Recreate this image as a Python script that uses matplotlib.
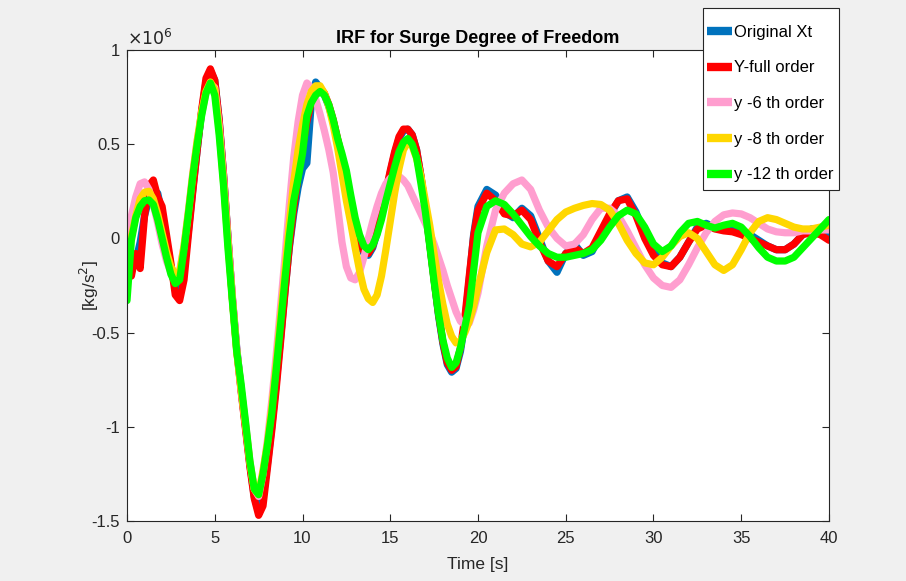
import numpy as np
import matplotlib.pyplot as plt
from matplotlib.patches import Rectangle

plt.rcParams['font.family'] = ['Liberation Sans', 'DejaVu Sans']

# time grid: 0.25 s up to 20 s, then 0.5 s
t = np.concatenate([np.arange(0, 20, 0.25), np.arange(20, 40.5, 0.5)])

# values in units of 1e6 kg/s^2
original_xt = [
    -0.05, -0.12, -0.12, -0.02, 0.12, 0.21, 0.25, 0.24, 0.13, -0.01, -0.15, -0.26,
    -0.28, -0.16, 0.04, 0.26, 0.47, 0.67, 0.83, 0.89, 0.84, 0.63, 0.34, 0.01,
    -0.31, -0.58, -0.80, -1.00, -1.20, -1.37, -1.45, -1.38, -1.20, -1.00, -0.77, -0.53,
    -0.28, -0.05, 0.13, 0.27, 0.37, 0.40, 0.72, 0.83, 0.80, 0.76, 0.70, 0.62,
    0.52, 0.42, 0.31, 0.18, 0.06, -0.03, -0.08, -0.09, -0.05, 0.03, 0.13, 0.24,
    0.35, 0.45, 0.53, 0.57, 0.58, 0.55, 0.47, 0.33, 0.16, -0.03, -0.22, -0.41,
    -0.56, -0.67, -0.71, -0.69, -0.60, -0.45, -0.22, 0.02,
    0.17, 0.26, 0.23, 0.14, 0.11, 0.16, 0.12, 0.00, -0.12, -0.18, -0.08, -0.03,
    -0.09, -0.07, 0.02, 0.12, 0.20, 0.22, 0.14, 0.02, -0.07, -0.13, -0.15, -0.10,
    -0.02, 0.06, 0.08, 0.06, 0.05, 0.05, 0.04, 0.02, -0.01, -0.04, -0.06, -0.06,
    -0.03, 0.02, 0.05, 0.05, 0.03]

y_full = [
    0.00, -0.20, -0.08, -0.16, 0.12, 0.28, 0.31, 0.22, 0.17, 0.02, -0.13, -0.30,
    -0.33, -0.22, 0.02, 0.25, 0.47, 0.68, 0.85, 0.90, 0.84, 0.63, 0.34, 0.01,
    -0.31, -0.59, -0.81, -1.01, -1.21, -1.38, -1.47, -1.42, -1.22, -1.02, -0.80, -0.55,
    -0.29, -0.04, 0.16, 0.33, 0.48, 0.62, 0.72, 0.78, 0.80, 0.77, 0.71, 0.63,
    0.53, 0.43, 0.32, 0.19, 0.07, -0.02, -0.07, -0.08, -0.04, 0.04, 0.14, 0.25,
    0.36, 0.46, 0.54, 0.58, 0.58, 0.55, 0.47, 0.33, 0.16, -0.03, -0.22, -0.40,
    -0.55, -0.66, -0.70, -0.68, -0.58, -0.42, -0.20, 0.01,
    0.15, 0.24, 0.20, 0.13, 0.12, 0.15, 0.10, -0.02, -0.12, -0.15, -0.08, -0.05,
    -0.08, -0.05, 0.04, 0.13, 0.20, 0.21, 0.12, 0.00, -0.09, -0.14, -0.15, -0.10,
    -0.02, 0.05, 0.07, 0.05, 0.04, 0.035, 0.02, 0.00, -0.02, -0.04, -0.06, -0.06,
    -0.03, 0.02, 0.03, 0.02, -0.01]

y_6th = [
    0.00, 0.12, 0.22, 0.29, 0.30, 0.26, 0.18, 0.08, -0.03, -0.12, -0.18, -0.20,
    -0.17, -0.04, 0.15, 0.35, 0.52, 0.66, 0.77, 0.82, 0.80, 0.60, 0.32, 0.00,
    -0.30, -0.58, -0.80, -0.98, -1.18, -1.33, -1.37, -1.25, -1.07, -0.86, -0.62, -0.36,
    -0.10, 0.18, 0.43, 0.62, 0.76, 0.825, 0.80, 0.74, 0.66, 0.57, 0.47, 0.35,
    0.17, -0.02, -0.15, -0.21, -0.22, -0.18, -0.10, 0.00, 0.09, 0.17, 0.24, 0.29,
    0.32, 0.335, 0.33, 0.31, 0.28, 0.23, 0.18, 0.13, 0.08, 0.03, -0.03, -0.10,
    -0.17, -0.25, -0.32, -0.39, -0.44, -0.46, -0.45, -0.38,
    -0.29, -0.04, 0.15, 0.24, 0.29, 0.31, 0.26, 0.15, 0.06, 0.00, -0.04, -0.03,
    0.02, 0.10, 0.16, 0.16, 0.12, 0.04, -0.05, -0.14, -0.21, -0.25, -0.26, -0.22,
    -0.14, -0.05, 0.03, 0.09, 0.125, 0.135, 0.13, 0.11, 0.08, 0.05, 0.035, 0.03,
    0.03, 0.04, 0.04, 0.045, 0.045]

y_8th = [
    -0.10, 0.01, 0.12, 0.21, 0.245, 0.25, 0.21, 0.13, 0.03, -0.07, -0.15, -0.19,
    -0.18, -0.04, 0.14, 0.34, 0.52, 0.67, 0.78, 0.83, 0.79, 0.58, 0.30, -0.02,
    -0.32, -0.60, -0.80, -0.99, -1.19, -1.33, -1.36, -1.23, -1.09, -0.90, -0.67, -0.42,
    -0.17, 0.08, 0.30, 0.47, 0.60, 0.71, 0.78, 0.81, 0.81, 0.77, 0.70, 0.60,
    0.48, 0.34, 0.20, 0.08, -0.05, -0.17, -0.27, -0.32, -0.34, -0.30, -0.20, -0.06,
    0.09, 0.24, 0.37, 0.47, 0.51, 0.49, 0.425, 0.33, 0.20, 0.07, -0.08, -0.225,
    -0.35, -0.455, -0.52, -0.555, -0.545, -0.50, -0.44, -0.36,
    -0.26, -0.075, 0.045, 0.05, 0.02, -0.03, -0.045, -0.02, 0.04, 0.10, 0.14, 0.16,
    0.175, 0.185, 0.18, 0.15, 0.08, -0.01, -0.08, -0.13, -0.14, -0.10, -0.04, 0.01,
    0.03, 0.00, -0.07, -0.14, -0.17, -0.14, -0.06, 0.03, 0.09, 0.11, 0.10, 0.08,
    0.06, 0.05, 0.05, 0.06, 0.07]

y_12th = [
    -0.33, -0.01, 0.11, 0.17, 0.20, 0.204, 0.18, 0.10, 0.00, -0.10, -0.19, -0.24,
    -0.22, -0.06, 0.13, 0.33, 0.50, 0.65, 0.77, 0.825, 0.76, 0.55, 0.28, -0.05,
    -0.33, -0.60, -0.77, -0.97, -1.18, -1.33, -1.36, -1.25, -1.10, -0.93, -0.70, -0.46,
    -0.22, 0.01, 0.20, 0.32, 0.45, 0.65, 0.72, 0.76, 0.78, 0.76, 0.71, 0.63,
    0.53, 0.45, 0.36, 0.23, 0.11, 0.02, -0.04, -0.06, -0.035, 0.02, 0.10, 0.20,
    0.29, 0.38, 0.46, 0.51, 0.53, 0.50, 0.43, 0.29, 0.14, -0.04, -0.23, -0.40,
    -0.54, -0.635, -0.685, -0.66, -0.58, -0.47, -0.36, -0.17,
    0.03, 0.17, 0.20, 0.18, 0.13, 0.07, 0.01, -0.04, -0.08, -0.10, -0.10, -0.09,
    -0.08, -0.06, -0.01, 0.06, 0.12, 0.15, 0.13, 0.06, -0.03, -0.07, -0.04, 0.03,
    0.08, 0.09, 0.07, 0.055, 0.07, 0.08, 0.06, 0.01, -0.05, -0.10, -0.12, -0.12,
    -0.10, -0.05, 0.00, 0.05, 0.10]

labels = ['Original Xt', 'Y-full order', 'y -6 th order', 'y -8 th order', 'y -12 th order']
colors = ['#0072BD', '#FF0000', '#FF9ECF', '#FFD700', '#00FF00']
series = [original_xt, y_full, y_6th, y_8th, y_12th]

W, H = 906, 581
fig = plt.figure(figsize=(W/100, H/100), dpi=100, facecolor='#F0F0F0')
ax = fig.add_axes([127/W, 1 - 521/H, 702/W, 471/H])
ax.set_facecolor('white')

for ys, c, lab in zip(series, colors, labels):
    ax.plot(t, ys, color=c, lw=5.2, label=lab, solid_capstyle='round', solid_joinstyle='round')

ax.set_xlim(0, 40)
ax.set_ylim(-1.5, 1)
ax.set_xticks(np.arange(0, 41, 5))
ax.set_yticks([-1.5, -1, -0.5, 0, 0.5, 1])
ax.set_yticklabels(['-1.5', '-1', '-0.5', '0', '0.5', '1'])
ax.tick_params(direction='in', top=True, right=True, length=5, width=0.8,
               labelsize=12, colors='#262626', pad=5)
ax.tick_params(axis='x', pad=7)
for sp in ax.spines.values():
    sp.set_color('#262626')
    sp.set_linewidth(0.8)

ax.set_title('IRF for Surge Degree of Freedom', fontsize=13, fontweight='bold', pad=5)
ax.set_xlabel('Time [s]', fontsize=12.5, color='#262626', labelpad=8)
ax.set_ylabel('[kg/s$^2$]', fontsize=12.5, color='#262626')
ax.yaxis.set_label_coords(-0.037, 0.5)
ax.text(0, 1.005, r'$\times10^{6}$', transform=ax.transAxes, fontsize=12.5,
        color='#262626', va='bottom', ha='left')

# legend box drawn separately (MATLAB style: tall rows, tight sides)
fig.patches.append(Rectangle((703/W, 1 - 190/H), 136/W, 182/H, transform=fig.transFigure,
                             facecolor='white', edgecolor='#262626', lw=0.8, zorder=5))
leg = fig.legend(loc='upper left', bbox_to_anchor=(704/W, 1 - 21.5/H),
                 bbox_transform=fig.transFigure, fontsize=12, frameon=False,
                 handlelength=1.45, handletextpad=0.15, labelspacing=1.24,
                 borderpad=0.2, borderaxespad=0)
leg.set_zorder(6)
for ln in leg.get_lines():
    ln.set_linewidth(6)
    ln.set_solid_capstyle('butt')

fig.savefig('out.png', dpi=100, facecolor=fig.get_facecolor())
